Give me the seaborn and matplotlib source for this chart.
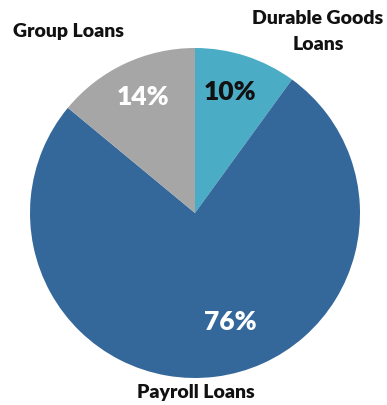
import matplotlib
matplotlib.use("Agg")
import matplotlib.pyplot as plt
import seaborn as sns

# Loan portfolio composition
categories = ["Durable Goods\nLoans", "Payroll Loans", "Group Loans"]
shares = [10, 76, 14]
colors = ["#4BACC6", "#34679A", "#A6A6A6"]
pct_colors = ["#111111", "white", "white"]

sns.set_theme(style="white")
plt.rcParams["font.family"] = ["Lato", "DejaVu Sans"]

fig = plt.figure(figsize=(3.87, 4.05), dpi=100)
ax = fig.add_axes([0, 0, 1, 1])
ax.axis("off")

wedges, texts, autotexts = ax.pie(
    shares, colors=colors, startangle=90, counterclock=False,
    labels=categories, autopct="%d%%", radius=1.0,
    wedgeprops=dict(linewidth=0),
)

pct_pos = [(0.212, 0.733), (0.212, -0.661), (-0.315, 0.703)]
label_pos = [(0.745, 1.100), (0.006, -1.085), (-0.770, 1.097)]

for t, pos, c in zip(autotexts, pct_pos, pct_colors):
    t.set_position(pos)
    t.set_color(c)
    t.set_fontsize(19)
    t.set_fontweight("heavy")
    t.set_ha("center")
    t.set_va("center")

for t, pos in zip(texts, label_pos):
    t.set_position(pos)
    t.set_fontsize(14)
    t.set_fontweight("heavy")
    t.set_color("#111111")
    t.set_ha("center")
    t.set_va("center")
    t.set_multialignment("center")
    t.set_linespacing(1.6)

ax.set_aspect("auto")
ax.set_xlim(-195 / 165, (387 - 195) / 165)
ax.set_ylim(-(405 - 213) / 165, 213 / 165)

fig.savefig("out.png", dpi=100)
